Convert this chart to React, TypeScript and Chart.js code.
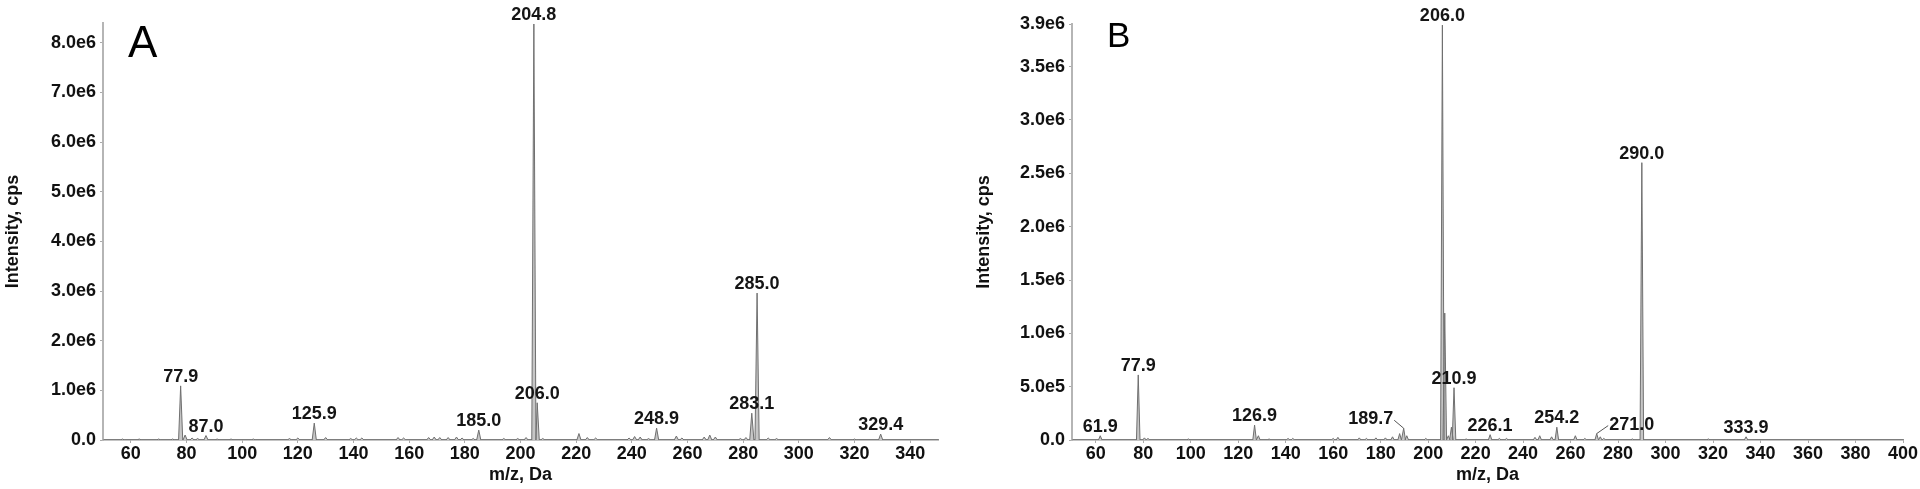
import React, { useEffect, useRef } from "react";
import { Chart, registerables } from "chart.js";
Chart.register(...registerables);

// ---------- Panel A data ----------
const peaksA_mz = [77.9, 87.0, 125.9, 185.0, 204.8, 206.0, 248.9, 283.1, 285.0, 329.4];
const peaksA_int = [1.09e6, 0.09e6, 0.34e6, 0.2e6, 8.38e6, 0.75e6, 0.24e6, 0.54e6, 2.96e6, 0.12e6];
const peaksA_label = ["77.9", "87.0", "125.9", "185.0", "204.8", "206.0", "248.9", "283.1", "285.0", "329.4"];
const minorA_mz = [57, 63, 70, 75, 79.5, 82, 84, 91, 96, 104, 117, 120, 130, 139, 141, 143, 156, 158, 167, 169, 171, 174, 177, 179, 183, 194, 199, 202, 208, 221, 224, 227, 239, 241, 243, 246, 256, 258, 266, 268, 270, 279, 281, 289, 292, 311, 320];
const minorA_int = [0.02e6, 0.02e6, 0.02e6, 0.02e6, 0.1e6, 0.04e6, 0.03e6, 0.02e6, 0.02e6, 0.02e6, 0.03e6, 0.04e6, 0.05e6, 0.03e6, 0.04e6, 0.04e6, 0.05e6, 0.04e6, 0.05e6, 0.06e6, 0.05e6, 0.05e6, 0.06e6, 0.04e6, 0.03e6, 0.03e6, 0.03e6, 0.05e6, 0.03e6, 0.13e6, 0.05e6, 0.04e6, 0.04e6, 0.07e6, 0.06e6, 0.03e6, 0.08e6, 0.04e6, 0.06e6, 0.1e6, 0.06e6, 0.03e6, 0.05e6, 0.04e6, 0.03e6, 0.05e6, 0.02e6];
const yTicksA = [0, 1e6, 2e6, 3e6, 4e6, 5e6, 6e6, 7e6, 8e6];
const yTickLabelsA = ["0.0", "1.0e6", "2.0e6", "3.0e6", "4.0e6", "5.0e6", "6.0e6", "7.0e6", "8.0e6"];
const xTicksA = [60, 80, 100, 120, 140, 160, 180, 200, 220, 240, 260, 280, 300, 320, 340];

// ---------- Panel B data ----------
const peaksB_mz = [61.9, 77.9, 126.9, 189.7, 206.0, 207.0, 210.9, 226.1, 254.2, 271.0, 290.0, 333.9];
const peaksB_int = [0.04e6, 0.61e6, 0.14e6, 0.11e6, 3.89e6, 1.19e6, 0.49e6, 0.05e6, 0.12e6, 0.06e6, 2.6e6, 0.03e6];
const peaksB_label = ["61.9", "77.9", "126.9", "189.7", "206.0", "", "210.9", "226.1", "254.2", "271.0", "290.0", "333.9"];
const minorB_mz = [80.5, 82, 99, 128.5, 133, 141, 143, 160, 162, 171, 174, 178, 182, 185, 188, 191, 199, 208.5, 209.8, 216, 230, 233, 245, 247, 252, 262, 266, 272.5, 274, 286, 318];
const minorB_int = [0.02e6, 0.015e6, 0.01e6, 0.04e6, 0.01e6, 0.015e6, 0.015e6, 0.015e6, 0.025e6, 0.02e6, 0.015e6, 0.02e6, 0.02e6, 0.03e6, 0.06e6, 0.04e6, 0.015e6, 0.04e6, 0.12e6, 0.01e6, 0.015e6, 0.015e6, 0.025e6, 0.04e6, 0.03e6, 0.04e6, 0.015e6, 0.03e6, 0.015e6, 0.01e6, 0.01e6];
const yTicksB = [0, 0.5e6, 1.0e6, 1.5e6, 2.0e6, 2.5e6, 3.0e6, 3.5e6, 3.9e6];
const yTickLabelsB = ["0.0", "5.0e5", "1.0e6", "1.5e6", "2.0e6", "2.5e6", "3.0e6", "3.5e6", "3.9e6"];
const xTicksB = [60, 80, 100, 120, 140, 160, 180, 200, 220, 240, 260, 280, 300, 320, 340, 360, 380, 400];

// label horizontal shifts (px) with leader lines (style)
const labelShiftA = peaksA_mz.map(() => 0);
const labelShiftB = [0, 0, 0, -33, 0, 0, 0, 0, 0, 35, 0, 0];

const FONT = "'Liberation Sans', Arial, sans-serif";

type PanelCfg = {
  letter: string;
  letterSize: number;
  letterDx: number;
  letterDy: number;
  xMin: number;
  xMax: number;
  yMax: number;
  peaksMz: number[];
  peaksInt: number[];
  peaksLabel: string[];
  shifts: number[];
  minorMz: number[];
  minorInt: number[];
  yTicks: number[];
  yTickLabels: string[];
  xTicks: number[];
  leftW: number;
  padTop: number;
  padRight: number;
  yTitlePad: number;
};

function buildSpectrum(cfg: PanelCfg) {
  const all: { mz: number; h: number }[] = [];
  cfg.peaksMz.forEach((m, i) => all.push({ mz: m, h: cfg.peaksInt[i] }));
  cfg.minorMz.forEach((m, i) => all.push({ mz: m, h: cfg.minorInt[i] }));
  all.sort((a, b) => a.mz - b.mz);
  const hw = 0.75;
  const pts: { x: number; y: number }[] = [{ x: cfg.xMin, y: 0 }];
  all.forEach((p) => {
    pts.push({ x: p.mz - hw, y: 0 });
    pts.push({ x: p.mz, y: p.h });
    pts.push({ x: p.mz + hw, y: 0 });
  });
  pts.push({ x: cfg.xMax, y: 0 });
  return pts;
}

function makeChart(canvas: HTMLCanvasElement, cfg: PanelCfg) {
  const labelPlugin = {
    id: "peakLabels" + cfg.letter,
    afterDatasetsDraw(chart: any) {
      const ctx = chart.ctx;
      const xs = chart.scales.x;
      const ys = chart.scales.y;
      ctx.save();
      ctx.font = `bold 18px ${FONT}`;
      ctx.fillStyle = "#151515";
      ctx.textAlign = "center";
      ctx.textBaseline = "alphabetic";
      cfg.peaksMz.forEach((m, i) => {
        const t = cfg.peaksLabel[i];
        if (!t) return;
        const px = xs.getPixelForValue(m);
        const py = ys.getPixelForValue(cfg.peaksInt[i]);
        const sh = cfg.shifts[i];
        const ly = py - 4;
        ctx.fillText(t, px + sh, ly);
        if (sh !== 0) {
          const w = ctx.measureText(t).width;
          const ex = sh < 0 ? px + sh + w / 2 + 1 : px + sh - w / 2 - 1;
          ctx.strokeStyle = "#555";
          ctx.lineWidth = 1;
          ctx.beginPath();
          ctx.moveTo(ex, ly - 4);
          ctx.lineTo(px, py);
          ctx.stroke();
        }
      });
      const ca = chart.chartArea;
      ctx.font = `${cfg.letterSize}px ${FONT}`;
      ctx.textAlign = "left";
      ctx.fillStyle = "#000";
      ctx.fillText(cfg.letter, ca.left + cfg.letterDx, ca.top + cfg.letterDy);
      ctx.restore();
    },
  };

  return new Chart(canvas, {
    type: "line",
    data: {
      datasets: [
        {
          data: buildSpectrum(cfg),
          borderColor: "#707070",
          backgroundColor: "#c6c6c6",
          borderWidth: 1,
          pointRadius: 0,
          tension: 0,
          fill: "origin",
        },
      ],
    },
    options: {
      animation: false,
      responsive: false,
      maintainAspectRatio: false,
      devicePixelRatio: 1,
      layout: { padding: { top: cfg.padTop, right: cfg.padRight, left: 0, bottom: 0 } },
      plugins: { legend: { display: false }, tooltip: { enabled: false }, title: { display: false } },
      scales: {
        x: {
          type: "linear",
          min: cfg.xMin,
          max: cfg.xMax,
          afterBuildTicks: (s: any) => {
            s.ticks = cfg.xTicks.map((v) => ({ value: v }));
          },
          afterFit: (s: any) => {
            s.height = 49;
          },
          ticks: {
            color: "#111",
            font: { family: FONT, weight: "bold", size: 18 },
            padding: 0,
            maxRotation: 0,
            autoSkip: false,
            callback: (v: any) => String(v),
          },
          grid: { display: true, drawOnChartArea: false, drawTicks: true, tickLength: 3, color: "#aaa" },
          border: { display: true, color: "#8a8a8a", width: 1.5 },
          title: {
            display: true,
            text: "m/z, Da",
            color: "#111",
            font: { family: FONT, weight: "bold", size: 18 },
            padding: { top: 0, bottom: 3 },
          },
        },
        y: {
          type: "linear",
          min: 0,
          max: cfg.yMax,
          afterBuildTicks: (s: any) => {
            s.ticks = cfg.yTicks.map((v) => ({ value: v }));
          },
          afterFit: (s: any) => {
            s.width = cfg.leftW;
          },
          ticks: {
            color: "#111",
            font: { family: FONT, weight: "bold", size: 18 },
            padding: 4,
            autoSkip: false,
            callback: (_v: any, i: number) => cfg.yTickLabels[i],
          },
          grid: { display: true, drawOnChartArea: false, drawTicks: true, tickLength: 3, color: "#aaa" },
          border: { display: true, color: "#b5b5b5", width: 2 },
          title: {
            display: true,
            text: "Intensity, cps",
            color: "#111",
            font: { family: FONT, weight: "bold", size: 18 },
            padding: { top: cfg.yTitlePad, bottom: 0 },
          },
        },
      },
    },
    plugins: [labelPlugin],
  } as any);
}

const cfgA: PanelCfg = {
  letter: "A",
  letterSize: 44,
  letterDx: 25,
  letterDy: 34,
  xMin: 50,
  xMax: 350,
  yMax: 8.4e6,
  peaksMz: peaksA_mz,
  peaksInt: peaksA_int,
  peaksLabel: peaksA_label,
  shifts: labelShiftA,
  minorMz: minorA_mz,
  minorInt: minorA_int,
  yTicks: yTicksA,
  yTickLabels: yTickLabelsA,
  xTicks: xTicksA,
  leftW: 103,
  padTop: 23,
  padRight: 22,
  yTitlePad: 2,
};

const cfgB: PanelCfg = {
  letter: "B",
  letterSize: 35,
  letterDx: 35,
  letterDy: 23,
  xMin: 50,
  xMax: 400,
  yMax: 3.9e6,
  peaksMz: peaksB_mz,
  peaksInt: peaksB_int,
  peaksLabel: peaksB_label,
  shifts: labelShiftB,
  minorMz: minorB_mz,
  minorInt: minorB_int,
  yTicks: yTicksB,
  yTickLabels: yTickLabelsB,
  xTicks: xTicksB,
  leftW: 112,
  padTop: 24,
  padRight: 17,
  yTitlePad: 13,
};

function Panel({ cfg, left }: { cfg: PanelCfg; left: number }) {
  const ref = useRef<HTMLCanvasElement | null>(null);
  useEffect(() => {
    if (!ref.current) return;
    const c = makeChart(ref.current, cfg);
    return () => c.destroy();
  }, [cfg]);
  return (
    <div style={{ position: "absolute", left, top: 0, width: 960, height: 489 }}>
      <canvas ref={ref} width={960} height={489} style={{ width: 960, height: 489, display: "block" }} />
    </div>
  );
}

export default function App() {
  return (
    <div style={{ position: "fixed", left: 0, top: 0, width: 1920, height: 489, background: "#fff", overflow: "hidden" }}>
      <Panel cfg={cfgA} left={0} />
      <Panel cfg={cfgB} left={960} />
    </div>
  );
}
